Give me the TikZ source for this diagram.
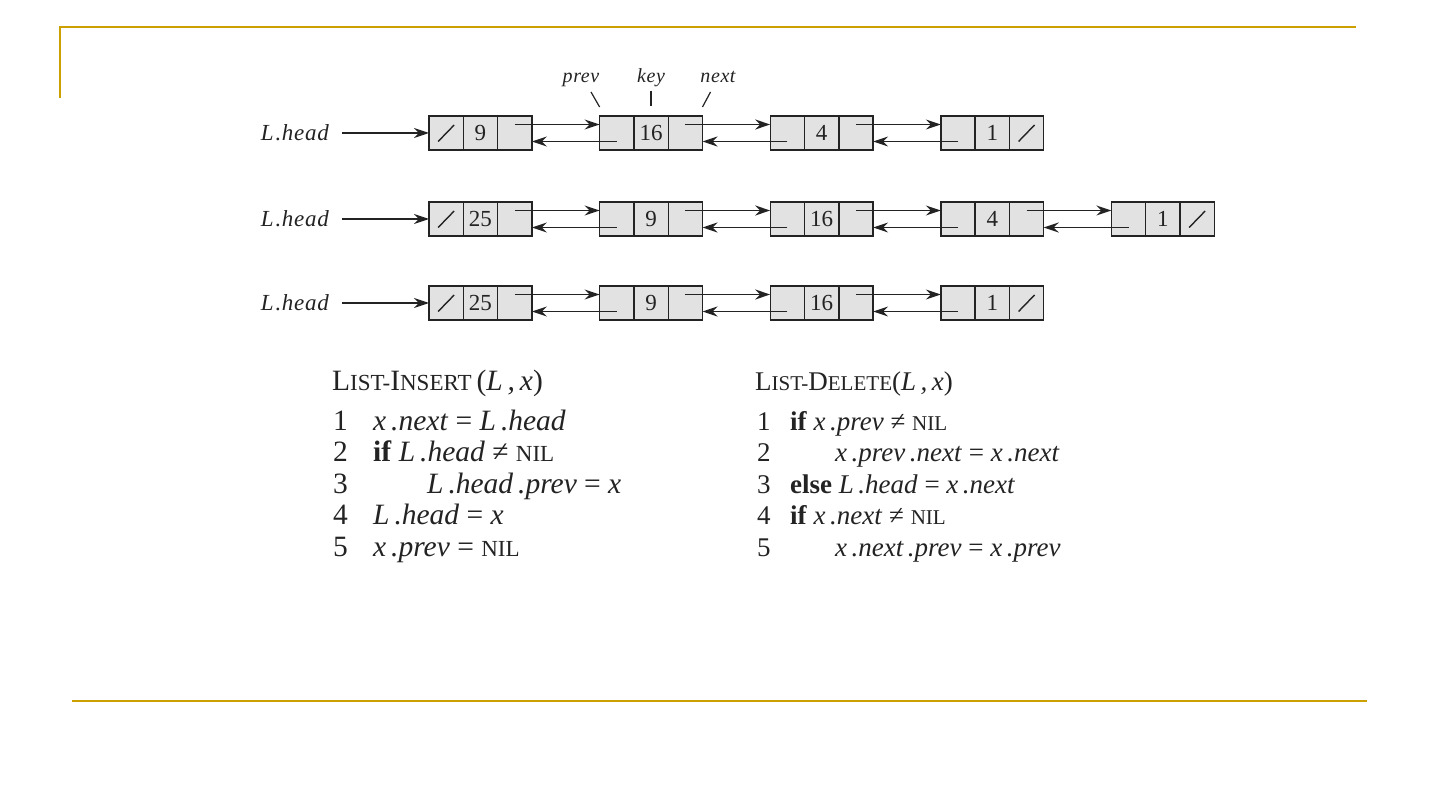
\documentclass[tikz,border=0pt]{standalone}
\usepackage{fontspec}
\setmainfont{Liberation Serif}
\newfontfamily\figfont[LetterSpace=3]{Liberation Serif}
\usetikzlibrary{arrows.meta}
\definecolor{gold}{RGB}{204,160,0}
\definecolor{cellgray}{RGB}{226,226,226}
\definecolor{ink}{RGB}{35,35,35}
\makeatletter
\newcommand\smc[1]{{\fontsize{\dimexpr 0.78\dimexpr\f@size pt\relax\relax}{1em}\selectfont #1}}
\makeatother
\newcommand\lelem[4]{%
  \node[cell,anchor=west] (#1p) at (#2,#3) {};
  \node[cell,anchor=west] (#1k) at (#1p.east) {#4};
  \node[cell,anchor=west] (#1n) at (#1k.east) {};}
\tikzset{
  cell/.style={draw=ink, fill=cellgray, line width=1.4pt, minimum width=34.3pt,
    minimum height=34pt, inner sep=0pt, outer sep=0pt,
    font=\fontsize{23}{23}\selectfont, text=ink},
  ptr/.style={draw=ink, line width=1.6pt, -{Stealth[length=15pt,width=10pt,inset=5pt]}},
  nilslash/.style={draw=ink, line width=1.4pt},
  tick/.style={draw=ink, line width=1.2pt},
  headlbl/.style={inner sep=0pt, font=\figfont\itshape\fontsize{23}{23}\selectfont, text=ink},
  lbl/.style={inner sep=0pt, font=\figfont\itshape\fontsize{20}{20}\selectfont, text=ink},
  icode/.style={inner sep=0pt, anchor=base west, font=\fontsize{29.5}{29.5}\selectfont, text=ink},
  dcode/.style={inner sep=0pt, anchor=base west, font=\fontsize{27}{27}\selectfont, text=ink},
  goldline/.style={draw=gold, line width=2pt}
}
\begin{document}
\begin{tikzpicture}[x=1pt,y=-1pt]
\useasboundingbox (0,0) rectangle (1440,810);
% frame lines
\draw[goldline] (60,98) -- (60,27) -- (1356,27);
\draw[goldline] (72,701) -- (1367,701);

% ---- row 1
\lelem{a1}{429}{133}{9}
\lelem{a2}{599.6}{133}{16}
\lelem{a3}{770.2}{133}{4}
\lelem{a4}{940.8}{133}{1}
% ---- row 2
\lelem{b1}{429}{219}{25}
\lelem{b2}{599.6}{219}{9}
\lelem{b3}{770.2}{219}{16}
\lelem{b4}{940.8}{219}{4}
\lelem{b5}{1111.4}{219}{1}
% ---- row 3
\lelem{c1}{429}{303}{25}
\lelem{c2}{599.6}{303}{9}
\lelem{c3}{770.2}{303}{16}
\lelem{c4}{940.8}{303}{1}

% nil slashes
\foreach \c in {a1p,a4n,b1p,b5n,c1p,c4n}{
  \draw[nilslash] ([shift={(-8pt,-8.5pt)}]\c.center) -- ([shift={(8pt,8pt)}]\c.center);
}

% next / prev pointers
\foreach \u/\v in {a1/a2,a2/a3,a3/a4,b1/b2,b2/b3,b3/b4,b4/b5,c1/c2,c2/c3,c3/c4}{
  \draw[ptr] ([yshift=8.5pt]\u n.center) -- ([yshift=8.5pt]\v p.west);
  \draw[ptr] ([yshift=-8.5pt]\v p.center) -- ([yshift=-8.5pt]\u n.east);
}

% head labels
\node[headlbl,anchor=east] (h1) at (329,133) {L\hspace{2pt}.head};
\node[headlbl,anchor=east] (h2) at (329,219) {L\hspace{2pt}.head};
\node[headlbl,anchor=east] (h3) at (329,303) {L\hspace{2pt}.head};
\draw[ptr] ([xshift=13pt]h1.east) -- (a1p.west);
\draw[ptr] ([xshift=13pt]h2.east) -- (b1p.west);
\draw[ptr] ([xshift=13pt]h3.east) -- (c1p.west);

% field labels
\node[lbl,anchor=base] (lprev) at (581,83) {prev};
\node[lbl,anchor=base] (lkey) at (651,83) {key};
\node[lbl,anchor=base] (lnext) at (718,83) {next};
\draw[tick] ([shift={(-8.6pt,24pt)}]a2p.north west) -- ([shift={(0pt,9pt)}]a2p.north west);
\draw[tick] ([yshift=25pt]a2k.north) -- ([yshift=10pt]a2k.north);
\draw[tick] ([shift={(8pt,24pt)}]a2n.north east) -- ([shift={(0pt,9pt)}]a2n.north east);

% ---- LIST-INSERT
\node[icode] (ih) at (332,390) {L\smc{IST-}I\smc{NSERT}\,(\textit{L\,,\,x})};
\node[icode] (in1) at (333,430) {1};
\node[icode] (in2) at (333,461.5) {2};
\node[icode] (in3) at (333,493) {3};
\node[icode] (in4) at (333,524.5) {4};
\node[icode] (in5) at (333,556) {5};
\node[icode] (it1) at (373,430) {\textit{x\,.next} = \textit{L\,.head}};
\node[icode] (it2) at (373,461.5) {\textbf{if} \textit{L\,.head} ≠ \smc{NIL}};
\node[icode] (it3) at (427,493) {\textit{L\,.head\,.prev} = \textit{x}};
\node[icode] (it4) at (373,524.5) {\textit{L\,.head} = \textit{x}};
\node[icode] (it5) at (373,556) {\textit{x\,.prev} = \smc{NIL}};

% ---- LIST-DELETE
\node[dcode] (dh) at (755,390) {L\smc{IST-}D\smc{ELETE}(\textit{L\,,\,x})};
\node[dcode] (dn1) at (757,430) {1};
\node[dcode] (dn2) at (757,461.5) {2};
\node[dcode] (dn3) at (757,493) {3};
\node[dcode] (dn4) at (757,524.5) {4};
\node[dcode] (dn5) at (757,556) {5};
\node[dcode] (dt1) at (790,430) {\textbf{if} \textit{x\,.prev} ≠ \smc{NIL}};
\node[dcode] (dt2) at (835,461.5) {\textit{x\,.prev\,.next} = \textit{x\,.next}};
\node[dcode] (dt3) at (790,493) {\textbf{else} \textit{L\,.head} = \textit{x\,.next}};
\node[dcode] (dt4) at (790,524.5) {\textbf{if} \textit{x\,.next} ≠ \smc{NIL}};
\node[dcode] (dt5) at (835,556) {\textit{x\,.next\,.prev} = \textit{x\,.prev}};
\end{tikzpicture}
\end{document}
